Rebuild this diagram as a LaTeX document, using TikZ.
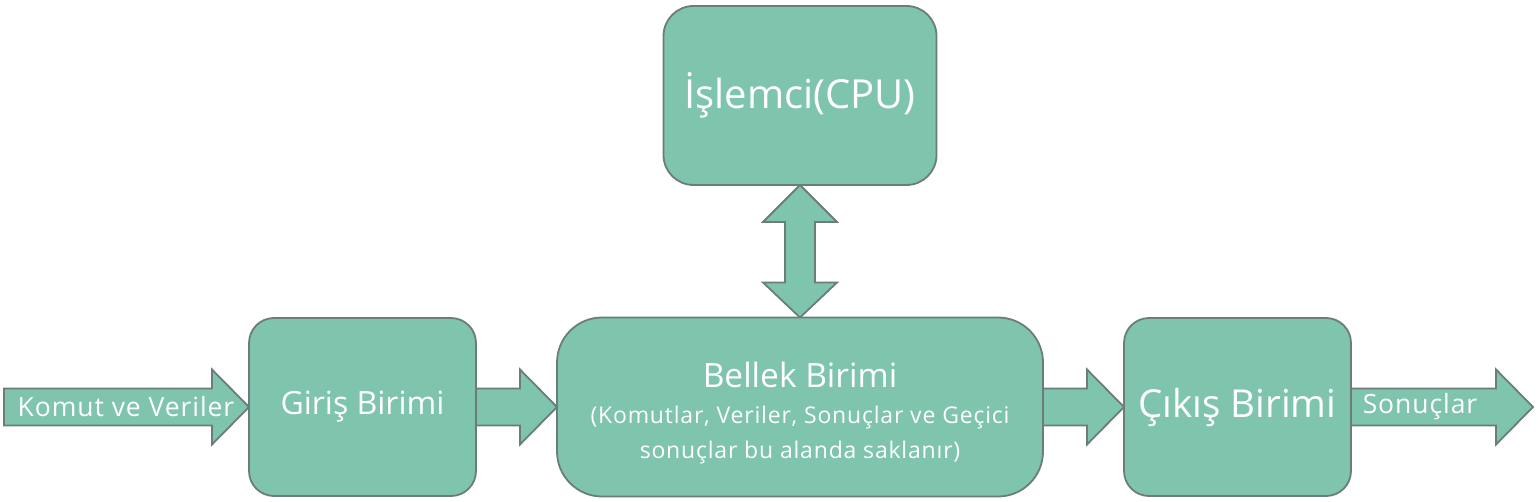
\documentclass[tikz,border=0pt]{standalone}
\usepackage{fontspec}
\setmainfont{Open Sans}
\newfontfamily\spacedfont[LetterSpace=3.5]{Open Sans}
\usetikzlibrary{calc,backgrounds}
\definecolor{boxfill}{RGB}{127,196,172}
\definecolor{boxline}{RGB}{108,124,124}
\newcommand\hblockarrow[2]{%
  \draw[blockarrow] ($(#1)+(0,-18.5)$) -- ($(#2)+(-37,-18.5)$) -- ($(#2)+(-37,-37.5)$) -- (#2)
    -- ($(#2)+(-37,37.5)$) -- ($(#2)+(-37,18.5)$) -- ($(#1)+(0,18.5)$) -- cycle;}
\begin{document}
\begin{tikzpicture}[x=1pt,y=-1pt,
  unit/.style={draw=boxline, fill=boxfill, line width=1.8pt, text=white, outer sep=0pt, inner sep=0pt, align=center},
  blockarrow/.style={draw=boxline, fill=boxfill, line width=1.8pt, line join=miter},
  txt/.style={text=white, inner sep=0pt, outer sep=0pt}]
\useasboundingbox (0,0) rectangle (1538,502);

\node[unit, rounded corners=30pt, minimum width=273pt, minimum height=179pt,
      font=\fontsize{40}{48}\selectfont] (cpu) at (800,95.5) {İşlemci(CPU)};
\node[unit, rounded corners=25pt, minimum width=227pt, minimum height=178pt,
      font=\fontsize{32}{38}\selectfont] (giris) at (362.5,407) {Giriş Birimi};
\node[unit, rounded corners=45pt, minimum width=486pt, minimum height=179pt] (bellek) at (800,407) {};
\node[unit, rounded corners=25pt, minimum width=227pt, minimum height=178pt,
      font=\fontsize{38.5}{44}\selectfont] (cikis) at (1237.5,407) {Çıkış Birimi};

\node[txt, font=\fontsize{33.5}{40}\selectfont, anchor=base] (bt1) at (800,387) {Bellek Birimi};
\node[txt, font=\spacedfont\fontsize{23}{27}\selectfont, anchor=base] (bt2) at (800,423) {(Komutlar, Veriler, Sonuçlar ve Geçici};
\node[txt, font=\spacedfont\fontsize{23}{27}\selectfont, anchor=base] (bt3) at (800,458) {sonuçlar bu alanda saklanır)};

\coordinate (in) at (4,407);
\coordinate (out) at (1533,407);

\begin{scope}[on background layer]
  \hblockarrow{in}{giris.west}
  \hblockarrow{giris.east}{bellek.west}
  \hblockarrow{bellek.east}{cikis.west}
  \hblockarrow{cikis.east}{out}
  \draw[blockarrow] (cpu.south) -- ($(cpu.south)+(37,37)$) -- ($(cpu.south)+(15,37)$)
    -- ($(bellek.north)+(15,-35)$) -- ($(bellek.north)+(37,-35)$) -- (bellek.north)
    -- ($(bellek.north)+(-37,-35)$) -- ($(bellek.north)+(-15,-35)$)
    -- ($(cpu.south)+(-15,37)$) -- ($(cpu.south)+(-37,37)$) -- cycle;
\end{scope}

\node[txt, font=\spacedfont\fontsize{26.5}{31}\selectfont] (lin) at (126,407) {Komut ve Veriler};
\node[txt, font=\spacedfont\fontsize{26.5}{31}\selectfont] (lout) at (1420,407) {Sonuçlar};
\end{tikzpicture}
\end{document}
